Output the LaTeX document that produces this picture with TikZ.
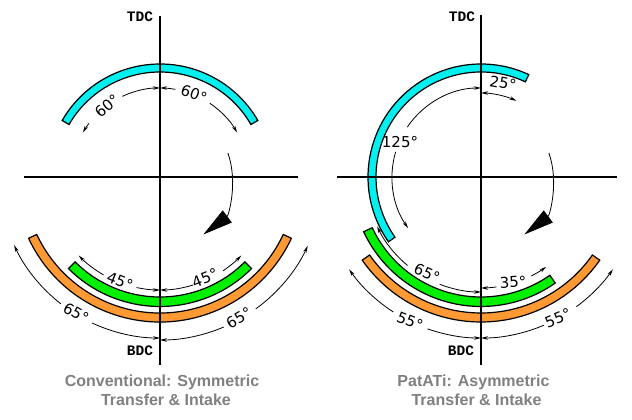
\documentclass[tikz,border=0pt]{standalone}
\usepackage{fontspec}
\setmainfont{Liberation Sans}
\setmonofont{Liberation Mono}
\newfontfamily\degfont{DejaVu Sans}
\usetikzlibrary{arrows.meta}
\definecolor{bandcyan}{RGB}{0,240,240}
\definecolor{bandgreen}{RGB}{0,240,0}
\definecolor{bandorange}{RGB}{255,153,51}
\definecolor{captiongray}{RGB}{128,128,128}
\tikzset{
	axisline/.style={line width=1.4pt},
	bandline/.style={line width=1.2pt, line join=miter},
	dimline/.style={line width=0.8pt, -{Stealth[width=3.5pt,length=7pt]}},
	turnline/.style={line width=0.8pt, -{Triangle[width=15pt,length=30pt]}},
	deglabel/.style={font=\fontsize{15}{15}\selectfont\degfont, inner sep=0pt},
	deadlabel/.style={font=\fontsize{14.5}{14.5}\selectfont\ttfamily\bfseries, inner sep=0pt},
	captionlabel/.style={font=\fontsize{16}{19}\selectfont\bfseries, text=captiongray, align=center, inner sep=0pt}
}
% band: colour, centre, start angle, end angle, outer radius, inner radius
\newcommand{\band}[6]{\draw[bandline, fill=#1, shift={(#2)}] (#3:#5) arc[start angle=#3, end angle=#4, radius=#5] -- (#4:#6) arc[start angle=#4, end angle=#3, radius=#6] -- cycle;}
% dimension arc: centre, radius, start angle, end angle
\newcommand{\dimarc}[4]{\draw[dimline, shift={(#1)}] (#3:#2) arc[start angle=#3, end angle=#4, radius=#2];}
\begin{document}
\begin{tikzpicture}[x=1pt,y=1pt]
	\useasboundingbox (0,0) rectangle (632,420);
	\coordinate (cl) at (160,243);
	\coordinate (cr) at (481,243);

	% left diagram
	\band{bandcyan}{cl}{150}{30}{113}{105}
	\band{bandorange}{cl}{205}{335}{145}{136}
	\band{bandgreen}{cl}{225}{315}{129.5}{120}
	\draw[axisline] (24,243) -- (298,243);
	\draw[axisline] (160,404) -- (160,55);

	\dimarc{cl}{89}{115}{90}
	\dimarc{cl}{89}{143}{150}
	\dimarc{cl}{89}{80}{90}
	\dimarc{cl}{89}{56}{30}
	\dimarc{cl}{113}{258}{270}
	\dimarc{cl}{113}{240}{224}
	\dimarc{cl}{113}{287}{270}
	\dimarc{cl}{113}{304}{316}
	\dimarc{cl}{161}{245}{270}
	\dimarc{cl}{161}{232}{205}
	\dimarc{cl}{163}{293}{270}
	\dimarc{cl}{163}{306}{335}
	\draw[turnline, shift={(cl)}] (19.5:72) arc[start angle=19.5, end angle=-53, radius=72];

	\node[deglabel, rotate=40] (sixtyl) at (107,314) {60°};
	\node[deglabel, rotate=-20] (sixtyr) at (194,326) {60°};
	\node[deglabel, rotate=-22] (fortyfivel) at (120,139) {45°};
	\node[deglabel, rotate=22] (fortyfiver) at (205,142) {45°};
	\node[deglabel, rotate=-30] (sixtyfivel) at (76,107) {65°};
	\node[deglabel, rotate=30] (sixtyfiver) at (239,102) {65°};
	\node[deadlabel] (tdcl) at (140,403) {TDC};
	\node[deadlabel] (bdcl) at (140,69) {BDC};
	\node[captionlabel] (captionl) at (162,30) {Conventional: Symmetric\\\hspace*{8pt}Transfer \& Intake};

	% right diagram
	\band{bandcyan}{cr}{215}{65}{113}{105}
	\band{bandorange}{cr}{215}{325}{145}{136}
	\band{bandgreen}{cr}{205}{305}{129.5}{120}
	\draw[axisline] (337,243) -- (617,243);
	\draw[axisline] (481,405) -- (481,55);

	\dimarc{cr}{89}{146}{90}
	\dimarc{cr}{89}{163.6}{215}
	\dimarc{cr}{84}{78}{90}
	\dimarc{cr}{84}{78}{65}
	\dimarc{cr}{115}{249}{270}
	\dimarc{cr}{115}{230.3}{205.4}
	\dimarc{cr}{111}{278}{270}
	\dimarc{cr}{111}{297}{306}
	\dimarc{cr}{161}{250.6}{270}
	\dimarc{cr}{161}{237}{215}
	\dimarc{cr}{161}{293}{270}
	\dimarc{cr}{161}{306.3}{325}
	\draw[turnline, shift={(cr)}] (19.5:72) arc[start angle=19.5, end angle=-53, radius=72];

	\node[deglabel, rotate=-10] (twentyfive) at (503,337) {25°};
	\node[deglabel] (onetwentyfive) at (400,278) {125°};
	\node[deglabel, rotate=-25] (sixtyfive) at (427,147) {65°};
	\node[deglabel, rotate=3] (thirtyfive) at (513,138) {35°};
	\node[deglabel, rotate=-22] (fiftyfivel) at (410,99) {55°};
	\node[deglabel, rotate=22] (fiftyfiver) at (558,102) {55°};
	\node[deadlabel] (tdcr) at (462,403) {TDC};
	\node[deadlabel] (bdcr) at (461,69) {BDC};
	\node[captionlabel] (captionr) at (473.5,30) {PatATi: Asymmetric\\\hspace*{6pt}Transfer \& Intake};
\end{tikzpicture}
\end{document}
